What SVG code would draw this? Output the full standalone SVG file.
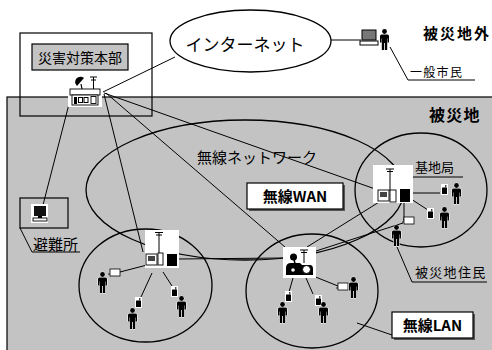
<svg xmlns="http://www.w3.org/2000/svg" width="492" height="350" viewBox="0 0 492 350">
  <defs>
    <style>
      text { font-family: "Noto Sans CJK JP", "Noto Sans CJK SC", sans-serif; fill: #000; }
      .b { font-weight: bold; }
      .ln { stroke: #000; stroke-width: 1; fill: none; }
      .ring { stroke: #000; stroke-width: 1.3; fill: none; }
      .zone { fill: #c3c3c3; }
      .wbg { fill: #fff; }
      .icon { fill: #000; stroke: #fff; stroke-width: 1; paint-order: stroke; }
      .scr { fill: #fff; stroke: #000; stroke-width: 0.9; }
      .box { fill: #fff; stroke: #000; stroke-width: 1.2; }
    </style>
    <!-- standing resident, 9 x 21 -->
    <g id="person" class="icon">
      <circle cx="4.5" cy="2.5" r="2.4"/>
      <path d="M1.5,5.5 H7.5 A1.5,1.5 0 0 1 9,7 V13.5 H7.6 V9.5 H7.2 V21 H4.9 V14 H4.1 V21 H1.8 V9.5 H1.4 V13.5 H0 V7 A1.5,1.5 0 0 1 1.5,5.5 Z"/>
    </g>
    <!-- handheld radio -->
    <g id="phone">
      <rect x="-1" y="-1" width="7" height="11" fill="#fff"/>
      <rect x="0" y="2.5" width="5" height="6.5" rx="0.6" fill="#000"/>
      <line x1="3.8" y1="0" x2="3.8" y2="2.5" stroke="#000" stroke-width="1"/>
    </g>
    <!-- laptop terminal -->
    <g id="laptop">
      <rect x="0" y="0" width="10" height="7" fill="#fff" stroke="#000" stroke-width="0.8"/>
      <line x1="0" y1="5" x2="-2" y2="5" stroke="#000" stroke-width="0.8"/>
    </g>
  </defs>

  <!-- page -->
  <rect width="492" height="350" fill="#fff"/>

  <!-- disaster zone -->
  <rect class="zone" x="7" y="97" width="490" height="258" stroke="#000" stroke-width="1.2"/>

  <!-- headquarters frame -->
  <rect x="20" y="33" width="132" height="83" fill="none" stroke="#000" stroke-width="1.2"/>

  <!-- coverage areas -->
  <g id="areas">
    <ellipse class="ring" cx="245" cy="190" rx="159" ry="70"/>
    <ellipse class="ring" cx="421" cy="190" rx="66" ry="57"/>
    <ellipse class="ring" cx="145.5" cy="285.5" rx="66.5" ry="56.5"/>
    <ellipse class="ring" cx="312" cy="291" rx="66" ry="57"/>
  </g>

  <!-- connectors -->
  <g id="connectors" class="ln">
    <line x1="103" y1="92" x2="175" y2="57"/>
    <line x1="331" y1="40" x2="361" y2="40"/>
    <line x1="69" y1="104" x2="43" y2="205"/>
    <line x1="104" y1="94" x2="143" y2="252"/>
    <line x1="106" y1="93" x2="285" y2="247"/>
    <line x1="104" y1="93" x2="378" y2="190"/>
    <line x1="177" y1="259" x2="283" y2="258"/>
    <line x1="307" y1="247" x2="384" y2="199"/>
    <line x1="316" y1="251" x2="403" y2="223"/>
    <!-- right station to terminals -->
    <line x1="410" y1="193" x2="440" y2="193"/>
    <line x1="411" y1="199" x2="428" y2="210"/>
    <polyline points="404,202 404,220 403,220"/>
    <!-- robot to terminals -->
    <line x1="293" y1="278" x2="289" y2="292"/>
    <line x1="306" y1="278" x2="313" y2="294"/>
    <line x1="313" y1="276" x2="338" y2="286"/>
    <!-- left station to terminals -->
    <line x1="147" y1="265" x2="120" y2="272"/>
    <line x1="152" y1="273" x2="141" y2="297"/>
    <line x1="163" y1="272" x2="172" y2="286"/>
    <!-- label leaders -->
    <polyline points="390,47 408,80 475,80"/>
    <polyline points="413,177 404,191"/>
    <line x1="413" y1="177" x2="463" y2="177"/>
    <polyline points="397,247 412,282 487,282"/>
    <line x1="357" y1="323" x2="392" y2="335"/>
    <polyline points="20,228 32,252 80,252"/>
  </g>

  <!-- internet -->
  <g id="internet">
    <ellipse cx="250.5" cy="41" rx="80.5" ry="31" fill="#fff" stroke="#000" stroke-width="1.3"/>
    <text x="245" y="51" font-size="17" text-anchor="middle">インターネット</text>
  </g>

  <!-- headquarters -->
  <g id="hq">
    <rect x="32" y="44" width="96" height="26" class="zone" stroke="#000" stroke-width="1.2"/>
    <text x="80" y="63" font-size="14" text-anchor="middle">災害対策本部</text>
    <rect class="wbg" x="68" y="76" width="34" height="31"/>
    <path d="M77,86 A5,5 0 0 1 84,78 Z" fill="#000"/>
    <line x1="81" y1="84" x2="82" y2="89" stroke="#000" stroke-width="1.2"/>
    <line x1="90" y1="77" x2="97" y2="77" stroke="#000"/>
    <line x1="91" y1="80" x2="96" y2="80" stroke="#000"/>
    <line x1="93.5" y1="77" x2="93.5" y2="89" stroke="#000"/>
    <rect x="70" y="89" width="30" height="6" fill="#fff" stroke="#000" stroke-width="0.9"/>
    <rect x="72" y="95" width="26" height="10" fill="#fff" stroke="#000" stroke-width="0.9"/>
    <rect x="74" y="97" width="3" height="7" fill="#000"/>
    <rect x="78.5" y="97.5" width="4" height="5" fill="none" stroke="#000" stroke-width="1"/>
    <rect x="84" y="97.5" width="4" height="5" fill="none" stroke="#000" stroke-width="1"/>
    <rect x="91" y="96.5" width="5" height="7" fill="none" stroke="#000" stroke-width="0.9"/>
  </g>

  <!-- outside citizen -->
  <g id="citizen">
    <rect x="362" y="30" width="14" height="10" fill="#777" stroke="#000" stroke-width="1"/>
    <rect x="360" y="41" width="18" height="4" fill="#fff" stroke="#000" stroke-width="1"/>
    <use href="#person" x="380" y="29"/>
    <text x="410" y="77" font-size="12" letter-spacing="1.3">一般市民</text>
  </g>

  <!-- shelter -->
  <g id="shelter">
    <rect x="20" y="198" width="48" height="30" fill="none" stroke="#000" stroke-width="1.2"/>
    <rect class="wbg" x="31" y="204" width="17" height="19"/>
    <rect x="34" y="206" width="12" height="10" fill="#111"/>
    <rect x="38" y="216" width="4" height="2" fill="#000"/>
    <rect x="33" y="218" width="14" height="3" fill="#fff" stroke="#000" stroke-width="0.9"/>
    <text x="33" y="250" font-size="15">避難所</text>
  </g>

  <!-- left LAN station -->
  <g id="station-left">
    <rect class="wbg" x="145" y="230" width="34" height="38"/>
    <line x1="155" y1="232.5" x2="163" y2="232.5" stroke="#000"/>
    <line x1="156" y1="235" x2="162" y2="235" stroke="#000"/>
    <line x1="159" y1="232" x2="159" y2="254" stroke="#000"/>
    <rect x="146" y="254" width="11" height="11" class="scr"/>
    <rect x="148" y="256" width="7" height="5" fill="#444"/>
    <rect x="158" y="253" width="5" height="12" class="scr"/>
    <rect x="167" y="254" width="10" height="12" fill="#000"/>
    <use href="#laptop" x="110" y="269"/>
    <use href="#person" x="98" y="272"/>
    <use href="#phone" x="136" y="298"/>
    <use href="#person" x="128" y="308"/>
    <use href="#phone" x="172" y="287"/>
    <use href="#person" x="177" y="296"/>
  </g>

  <!-- mobile robot station -->
  <g id="robot">
    <rect class="wbg" x="283" y="247" width="33" height="31"/>
    <line x1="300" y1="250" x2="308" y2="250" stroke="#000"/>
    <line x1="301" y1="252.5" x2="307" y2="252.5" stroke="#000"/>
    <line x1="304" y1="250" x2="304" y2="263" stroke="#000"/>
    <circle cx="293.5" cy="257" r="3.5" fill="#000"/>
    <line x1="294" y1="259" x2="295" y2="264" stroke="#000" stroke-width="1.5"/>
    <path d="M286,275 V268 Q286,263 291,263 H300 L302,265 H310 Q313,265 313,269 V275 Z" fill="#000"/>
    <circle cx="306.5" cy="269.5" r="4" fill="#fff" stroke="#000"/>
    <circle cx="293" cy="270" r="1.8" fill="#fff"/>
    <use href="#phone" x="286" y="292"/>
    <use href="#person" x="278" y="302"/>
    <use href="#phone" x="316" y="296"/>
    <use href="#person" x="319" y="302"/>
    <use href="#laptop" x="338" y="283"/>
    <use href="#person" x="349" y="277"/>
  </g>

  <!-- WAN base station -->
  <g id="station-right">
    <rect class="wbg" x="373" y="165" width="40" height="38"/>
    <line x1="386" y1="169" x2="394" y2="169" stroke="#000"/>
    <line x1="387" y1="171.5" x2="393" y2="171.5" stroke="#000"/>
    <line x1="390" y1="169" x2="390" y2="191" stroke="#000"/>
    <rect x="378" y="190" width="11" height="11" class="scr"/>
    <rect x="380" y="192" width="7" height="5" fill="#444"/>
    <rect x="390" y="190" width="6" height="12" class="scr"/>
    <rect x="400" y="189" width="10" height="13" fill="#000"/>
    <use href="#phone" x="442" y="185"/>
    <use href="#person" x="452" y="183"/>
    <use href="#phone" x="428" y="209"/>
    <use href="#person" x="440" y="207"/>
    <use href="#laptop" x="404" y="217"/>
    <use href="#person" x="392" y="225"/>
    <text x="415" y="172" font-size="13">基地局</text>
    <text x="415" y="277" font-size="13" letter-spacing="1.3">被災地住民</text>
  </g>

  <!-- network labels -->
  <g id="label-net">
    <text x="197" y="163" font-size="15">無線ネットワーク</text>
  </g>
  <g id="label-wan">
    <rect x="249" y="185" width="96" height="26" fill="#555"/>
    <rect class="box" x="247" y="183" width="96" height="26"/>
    <text x="295" y="202" font-size="15" class="b" text-anchor="middle">無線WAN</text>
  </g>
  <g id="label-lan">
    <rect x="394" y="314" width="81" height="26" fill="#555"/>
    <rect class="box" x="392" y="312" width="81" height="26"/>
    <text x="432.5" y="331" font-size="15" class="b" text-anchor="middle">無線LAN</text>
  </g>

  <!-- zone titles -->
  <text x="423" y="39" font-size="15" class="b" letter-spacing="2">被災地外</text>
  <text x="429" y="121" font-size="16" class="b" letter-spacing="1.3">被災地</text>
</svg>
